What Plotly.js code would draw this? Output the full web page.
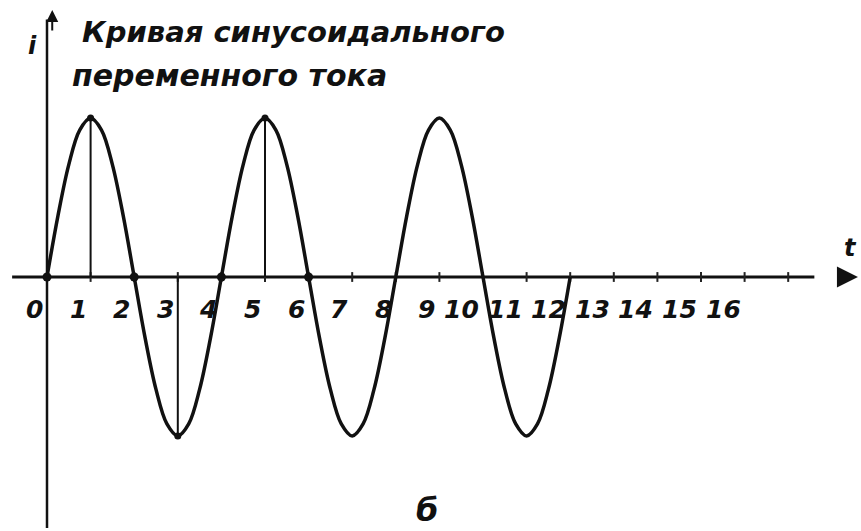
<!DOCTYPE html>
<html>
<head>
<meta charset="utf-8">
<script src="https://cdn.plot.ly/plotly-3.0.1.min.js"></script>
<style>html,body{margin:0;padding:0;background:#fff;}#chart{width:861px;height:531px;}</style>
</head>
<body>
<div id="chart"></div>
<script>
// Time points (quarter-period units) and current values
var timeT = [0,0.25,0.5,0.75,1,1.25,1.5,1.75,2,2.25,2.5,2.75,3,3.25,3.5,3.75,4,
             4.25,4.5,4.75,5,5.25,5.5,5.75,6,6.25,6.5,6.75,7,7.25,7.5,7.75,8,
             8.25,8.5,8.75,9,9.25,9.5,9.75,10,10.25,10.5,10.75,11,11.25,11.5,11.75,12];
var currentI = [0,0.383,0.707,0.924,1,0.924,0.707,0.383,0,-0.383,-0.707,-0.924,-1,-0.924,-0.707,-0.383,0,
                0.383,0.707,0.924,1,0.924,0.707,0.383,0,-0.383,-0.707,-0.924,-1,-0.924,-0.707,-0.383,0,
                0.383,0.707,0.924,1,0.924,0.707,0.383,0,-0.383,-0.707,-0.924,-1,-0.924,-0.707,-0.383,0];
var tickT = [0,1,2,3,4,5,6,7,8,9,10,11,12,13,14,15,16];
var tickLabels = ["0","1","2","3","4","5","6","7","8","9","10","11","12","13","14","15","16"];
var axisMarksT = [1,2,3,4,5,6,7,8,9,10,11,12,13,14,15,16,17];
var zeroDotsT = [0,2,4,6];
var dropLinesT = [1,3,5];
var titleLine1 = "Кривая синусоидального";
var titleLine2 = "переменного тока";
var yLabel = "i";
var xLabel = "t";
var figLabel = "б";

function valueAt(t){ return currentI[timeT.indexOf(t)]; }

var dropX = [], dropY = [];
dropLinesT.forEach(function(t){ dropX.push(t,t,null); dropY.push(0,valueAt(t),null); });

var fontBase = {family:"DejaVu Sans", color:"#111", style:"italic", weight:"bold"};
function f(size){ return Object.assign({}, fontBase, {size:size}); }

var traces = [
  {x: axisMarksT, y: axisMarksT.map(function(){return 0;}), mode:"markers", hoverinfo:"skip",
   marker:{symbol:"line-ns", size:7, line:{width:2, color:"#222"}}},
  {x: dropX, y: dropY, mode:"lines", line:{color:"#111", width:2}, hoverinfo:"skip"},
  {x: timeT, y: currentI, mode:"lines", line:{color:"#111", width:3.5, shape:"spline", smoothing:1}, hoverinfo:"skip"},
  {x: zeroDotsT, y: zeroDotsT.map(valueAt), mode:"markers", marker:{color:"#111", size:9}, hoverinfo:"skip"},
  {x: dropLinesT, y: dropLinesT.map(valueAt), mode:"markers", marker:{color:"#111", size:7}, hoverinfo:"skip"}
];

var ann = [];
tickT.forEach(function(t,k){
  ann.push({x:t, y:0, xref:"x", yref:"y", text:tickLabels[k], showarrow:false,
            xanchor:"right", yanchor:"top", xshift:-2, yshift:-16, font:f(25)});
});
ann.push({x:80/861, y:1-13/531, xref:"paper", yref:"paper", xanchor:"left", yanchor:"top",
          text:titleLine1, showarrow:false, font:f(29)});
ann.push({x:70/861, y:1-56/531, xref:"paper", yref:"paper", xanchor:"left", yanchor:"top",
          text:titleLine2, showarrow:false, font:f(30)});
ann.push({x:32/861, y:1-46/531, xref:"paper", yref:"paper", xanchor:"center", yanchor:"middle",
          text:yLabel, showarrow:false, font:f(24)});
ann.push({x:850/861, y:1-248/531, xref:"paper", yref:"paper", xanchor:"center", yanchor:"middle",
          text:xLabel, showarrow:false, font:f(24)});
ann.push({x:427/861, y:1-510/531, xref:"paper", yref:"paper", xanchor:"center", yanchor:"middle",
          text:figLabel, showarrow:false, font:f(32)});
// axis arrows
ann.push({x:18.6, y:0, xref:"x", yref:"y", ax:-22, ay:0, text:"", showarrow:true,
          arrowhead:2, arrowsize:1.4, arrowwidth:3, arrowcolor:"#111"});
ann.push({x:0.12, y:1.68, xref:"x", yref:"y", ax:0, ay:22, text:"", showarrow:true,
          arrowhead:2, arrowsize:1.2, arrowwidth:2, arrowcolor:"#111"});

var layout = {
  width:861, height:531, margin:{l:0,r:0,t:0,b:0}, paper_bgcolor:"#fff", plot_bgcolor:"#fff",
  showlegend:false,
  xaxis:{range:[-47/43.6, (861-47)/43.6], visible:false, fixedrange:true},
  yaxis:{range:[(277-531)/159, 277/159], visible:false, fixedrange:true},
  shapes:[
    {type:"line", xref:"x", yref:"y", x0:-0.8, x1:17.6, y0:0, y1:0, line:{color:"#111", width:3}, layer:"below"},
    {type:"line", xref:"x", yref:"y", x0:0, x1:0, y0:(277-528)/159, y1:1.62, line:{color:"#111", width:2.5}, layer:"below"}
  ],
  annotations: ann
};

Plotly.newPlot("chart", traces, layout, {staticPlot:true, displayModeBar:false});
</script>
</body>
</html>
